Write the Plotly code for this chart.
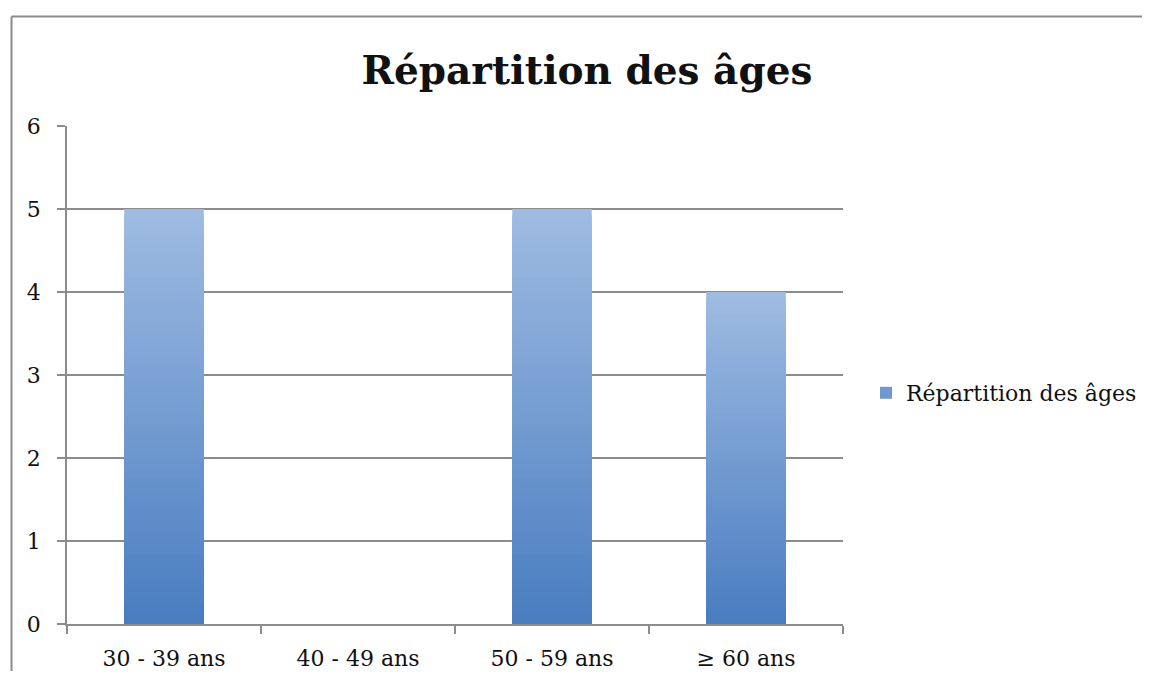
import plotly.graph_objects as go

categories = ["30 - 39 ans", "40 - 49 ans", "50 - 59 ans", "≥ 60 ans"]
values = [5, 0, 5, 4]
series_name = "Répartition des âges"
title_text = "Répartition des âges"
y_ticks = [0, 1, 2, 3, 4, 5, 6]

TOP = (158, 187, 226)
BOT = (72, 124, 192)
N = 60

def mix(f):
    r, g, b = (round(BOT[k] + (TOP[k] - BOT[k]) * f) for k in range(3))
    return f"rgb({r},{g},{b})"

# page is rendered with an 8px body margin; figure coords = page coords - 8
W, H = 1134, 663
OFF = 8
L, R_EDGE, T, B_EDGE = 67 - OFF, 843 - OFF, 126 - OFF, 624 - OFF
PW, PH = R_EDGE - L, B_EDGE - T

FONT = "DejaVu Serif"
fig = go.Figure()
for i in range(N):
    f = 1 - i / N
    fig.add_trace(go.Bar(
        x=categories, y=[v * f for v in values],
        marker=dict(color=mix(f), line=dict(width=0)),
        showlegend=False, hoverinfo="skip", name=series_name,
    ))
fig.add_trace(go.Bar(
    x=categories, y=[None] * len(categories), name=series_name,
    marker=dict(color=mix(0.45), line=dict(width=0)), showlegend=True,
))

grid = "#8c8c8c"
bx = (11.5 - OFF - L) / PW
by = (B_EDGE - (16.5 - OFF)) / PH
fig.update_layout(
    width=W, height=H,
    margin=dict(l=L, r=W - R_EDGE, t=T, b=H - B_EDGE, autoexpand=False),
    paper_bgcolor="white", plot_bgcolor="white",
    barmode="overlay", bargap=0.59,
    font=dict(family=FONT, size=22, color="#111"),
    title=dict(text=f"<b>{title_text}</b>", x=(587 - OFF) / W, xanchor="center",
               y=1 - (70 - OFF) / H, yanchor="middle", yref="container",
               font=dict(family=FONT, size=39, color="#111")),
    legend=dict(xref="container", yref="container",
                x=(866 - OFF) / W, y=1 - (393 - OFF) / H,
                xanchor="left", yanchor="middle",
                font=dict(family=FONT, size=22), itemsizing="constant",
                bgcolor="rgba(0,0,0,0)"),
    xaxis=dict(showline=True, linecolor=grid, linewidth=1.5, ticks="outside",
               tickson="boundaries", ticklen=8, tickcolor=grid, tickwidth=1.5,
               showgrid=False, ticklabelstandoff=14, automargin=False),
    yaxis=dict(range=[0, 6], tickvals=y_ticks, showline=True, linecolor=grid,
               linewidth=1.5, ticks="outside", ticklen=8, tickcolor=grid,
               tickwidth=1.5, showgrid=True, gridcolor=grid, gridwidth=1.5,
               zeroline=False, ticklabelstandoff=12, automargin=False),
    shapes=[
        dict(type="line", xref="paper", yref="paper",
             x0=bx, x1=bx, y0=by, y1=(B_EDGE - (H + 30)) / PH,
             line=dict(color="#8a8a8a", width=2), layer="below"),
        dict(type="line", xref="paper", yref="paper",
             x0=bx, x1=(W + 30 - L) / PW, y0=by, y1=by,
             line=dict(color="#8a8a8a", width=2), layer="below"),
    ],
)
fig.write_html("out.html")
